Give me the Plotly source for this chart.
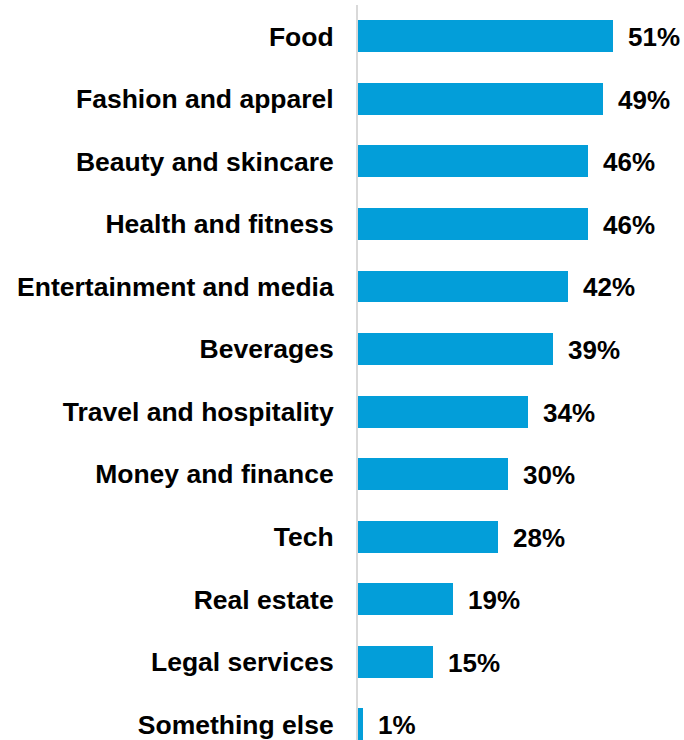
import plotly.graph_objects as go

# Share of respondents by category (percent)
categories = [
    "Food",
    "Fashion and apparel",
    "Beauty and skincare",
    "Health and fitness",
    "Entertainment and media",
    "Beverages",
    "Travel and hospitality",
    "Money and finance",
    "Tech",
    "Real estate",
    "Legal services",
    "Something else",
]
values = [51, 49, 46, 46, 42, 39, 34, 30, 28, 19, 15, 1]
value_labels = [f"{v}%" for v in values]

BAR_COLOR = "#039ED9"
FONT = "Liberation Sans, Arial, sans-serif"

fig = go.Figure(
    go.Bar(
        x=values,
        y=categories,
        orientation="h",
        marker=dict(color=BAR_COLOR, line=dict(width=0)),
        width=0.51,
        hoverinfo="skip",
    )
)

# Value labels just past the end of each bar
for cat, v, lab in zip(categories, values, value_labels):
    fig.add_annotation(
        x=v,
        y=cat,
        text=lab,
        showarrow=False,
        xanchor="left",
        yanchor="middle",
        xshift=13,
        yshift=-1,
        font=dict(family=FONT, size=26, color="#000000", weight="bold"),
    )

fig.update_layout(
    width=684,
    height=740,
    margin=dict(l=358, r=6, t=5, b=0),
    paper_bgcolor="white",
    plot_bgcolor="white",
    showlegend=False,
    bargap=0,
    xaxis=dict(
        range=[0, 64],
        visible=False,
        showgrid=False,
        zeroline=False,
    ),
    yaxis=dict(
        type="category",
        categoryorder="array",
        categoryarray=categories,
        range=[11.25, -0.5],
        showline=True,
        linecolor="#D9D9D9",
        linewidth=2,
        showgrid=False,
        zeroline=False,
        ticks="",
        ticklabelstandoff=17,
        tickfont=dict(family=FONT, size=26.5, color="#000000", weight="bold"),
    ),
)

fig.write_html("out.html")
